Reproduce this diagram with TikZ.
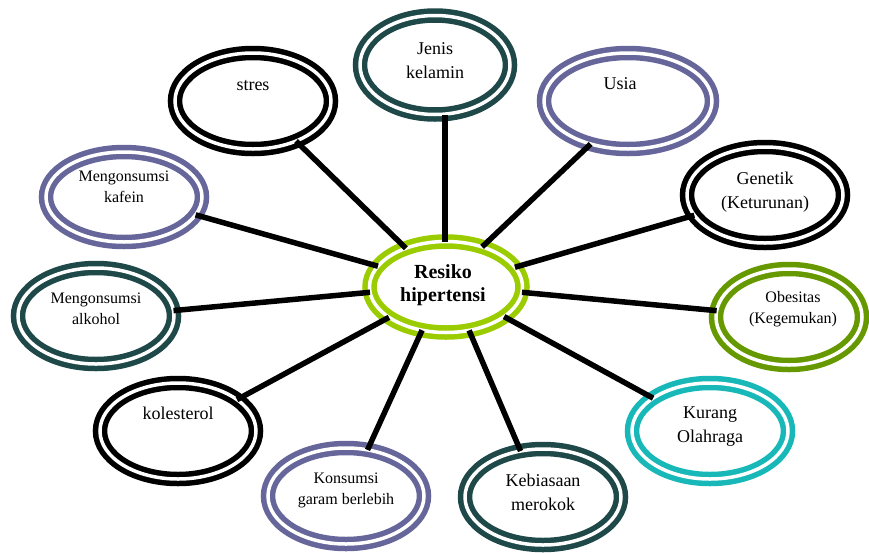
\documentclass[tikz,border=0pt]{standalone}
\usepackage{fontspec}
\setmainfont{Liberation Serif}
\usetikzlibrary{shapes.geometric}

\definecolor{hubgreen}{RGB}{154,204,0}
\definecolor{darkteal}{RGB}{31,72,72}
\definecolor{lavender}{RGB}{103,102,155}
\definecolor{olive}{RGB}{102,153,0}
\definecolor{aqua}{RGB}{24,184,184}

\begin{document}
\begin{tikzpicture}[x=1pt, y=-1pt,
    ring/.style={ellipse, draw=#1, double=white, double distance=3.5pt,
        line width=5.5pt, minimum width=156pt, minimum height=96pt,
        inner sep=0pt, outer sep=0pt},
    big/.style={font=\fontsize{18}{24}\selectfont, align=center, inner sep=0pt},
    small/.style={font=\fontsize{16}{21}\selectfont, align=center, inner sep=0pt},
    link/.style={line width=5.5pt}]
    \useasboundingbox (0,0) rectangle (869,552);

    % centre
    \node[ring=hubgreen, minimum width=153pt, minimum height=91pt] (hub) at (446,287) {};
    \node[big, font=\fontsize{20}{23}\selectfont\bfseries] (hub-t) at ([xshift=-3pt, yshift=2pt]hub.center) {Resiko\\hipertensi};

    % factors
    \node[ring=darkteal, minimum width=150pt, minimum height=99pt] (jenis) at (435,65) {};
    \node[big] (jenis-t) at ([yshift=4pt]jenis.center) {Jenis\\kelamin};

    \node[ring=black] (stres) at (253,101) {};
    \node[big] (stres-t) at ([yshift=15pt]stres.center) {stres};

    \node[ring=lavender, minimum width=168pt] (usia) at (628,101) {};
    \node[big] (usia-t) at ([xshift=-8pt, yshift=17pt]usia.center) {Usia};

    \node[ring=black] (genetik) at (765,195) {};
    \node[big] (genetik-t) at ([yshift=3pt]genetik.center) {Genetik\\(Keturunan)};

    \node[ring=olive, minimum width=146pt] (obesitas) at (789,317) {};
    \node[small] (obesitas-t) at ([xshift=4pt, yshift=8pt]obesitas.center) {Obesitas\\(Kegemukan)};

    \node[ring=aqua] (kurang) at (710,431) {};
    \node[big] (kurang-t) at ([yshift=4pt]kurang.center) {Kurang\\Olahraga};

    \node[ring=darkteal] (rokok) at (543,497) {};
    \node[big] (rokok-t) at ([yshift=5pt]rokok.center) {Kebiasaan\\merokok};

    \node[ring=lavender] (garam) at (346,496) {};
    \node[small] (garam-t) at ([yshift=6pt]garam.center) {Konsumsi\\garam berlebih};

    \node[ring=black] (kolesterol) at (178,431) {};
    \node[big] (kolesterol-t) at ([yshift=18pt]kolesterol.center) {kolesterol};

    \node[ring=darkteal] (alkohol) at (96,316) {};
    \node[small] (alkohol-t) at ([yshift=7pt]alkohol.center) {Mengonsumsi\\alkohol};

    \node[ring=lavender, minimum height=90pt] (kafein) at (124,197) {};
    \node[small] (kafein-t) at ([yshift=10pt]kafein.center) {Mengonsumsi\\kafein};

    % spokes
    \draw[link] (hub.136) -- (stres.-43);
    \draw[link] (hub.91) -- (hub.91 |- jenis.south);
    \draw[link] (hub.48) -- (usia.-131);
    \draw[link] (hub.16) -- (genetik.196);
    \draw[link] (hub.-4) -- (obesitas.175);
    \draw[link] (hub.-27) -- (kurang.150);
    \draw[link] (hub.-62) -- (rokok.116);
    \draw[link] (hub.-119) -- (garam.65);
    \draw[link] (hub.-152) -- (kolesterol.28);
    \draw[link] (hub.184) -- (alkohol.4);
    \draw[link] (hub.163) -- (kafein.-14);
\end{tikzpicture}
\end{document}
